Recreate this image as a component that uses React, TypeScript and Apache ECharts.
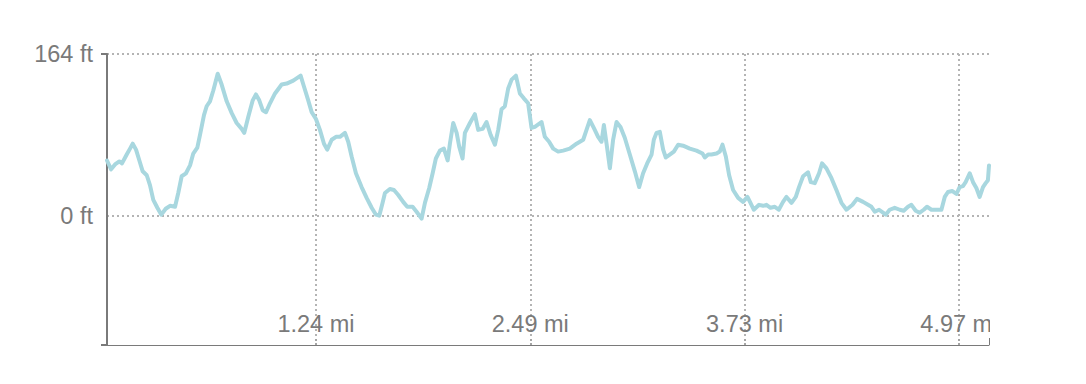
import React, { useEffect, useRef } from "react";
import * as echarts from "echarts";

// distance along route (km)
const distanceKm = [
  0.050, 0.088, 0.125, 0.165, 0.190, 0.234, 0.265, 0.290, 0.321, 0.352,
  0.383, 0.421, 0.451, 0.482, 0.520, 0.557, 0.598, 0.638, 0.685, 0.715,
  0.747, 0.787, 0.825, 0.855, 0.893, 0.918, 0.955, 0.980, 1.011, 1.042,
  1.083, 1.120, 1.167, 1.214, 1.260, 1.307, 1.331, 1.368, 1.410, 1.440,
  1.471, 1.503, 1.534, 1.571, 1.618, 1.680, 1.727, 1.788, 1.857, 1.888,
  1.928, 1.960, 2.000, 2.037, 2.075, 2.105, 2.147, 2.187, 2.224, 2.271,
  2.301, 2.333, 2.373, 2.426, 2.473, 2.520, 2.560, 2.591, 2.622, 2.644,
  2.690, 2.728, 2.768, 2.814, 2.852, 2.870, 2.902, 2.939, 2.986, 3.017,
  3.057, 3.089, 3.119, 3.157, 3.194, 3.229, 3.250, 3.281, 3.313, 3.337,
  3.368, 3.390, 3.437, 3.483, 3.514, 3.555, 3.592, 3.630, 3.670, 3.701,
  3.732, 3.763, 3.794, 3.826, 3.866, 3.903, 3.940, 3.980, 4.012, 4.043,
  4.105, 4.136, 4.176, 4.214, 4.260, 4.307, 4.369, 4.432, 4.494, 4.525,
  4.556, 4.593, 4.633, 4.665, 4.687, 4.712, 4.743, 4.773, 4.805, 4.842,
  4.882, 4.929, 4.976, 5.016, 5.053, 5.091, 5.132, 5.153, 5.178, 5.209,
  5.240, 5.265, 5.302, 5.340, 5.380, 5.426, 5.489, 5.551, 5.607, 5.629,
  5.660, 5.691, 5.738, 5.769, 5.794, 5.825, 5.856, 5.893, 5.940, 5.986,
  6.027, 6.055, 6.086, 6.135, 6.173, 6.204, 6.242, 6.282, 6.319, 6.359,
  6.391, 6.438, 6.478, 6.508, 6.546, 6.592, 6.618, 6.655, 6.695, 6.723,
  6.764, 6.811, 6.857, 6.904, 6.951, 7.007, 7.049, 7.106, 7.152, 7.184,
  7.215, 7.255, 7.292, 7.317, 7.354, 7.401, 7.448, 7.485, 7.525, 7.557,
  7.597, 7.634, 7.672, 7.702, 7.744, 7.790, 7.837, 7.868, 7.898, 7.939,
  7.977, 8.007, 8.038, 8.063, 8.101, 8.132, 8.163, 8.194, 8.225, 8.250,
  8.271, 8.281,
];

// elevation (ft)
const elevationFt = [
  56, 47, 52, 55, 53, 62, 68, 73, 67, 56,
  45, 41, 31, 16, 8, 1, 7, 10, 9, 23,
  40, 43, 51, 63, 69, 82, 102, 111, 116, 127,
  144, 133, 116, 104, 94, 88, 84, 100, 117, 123,
  117, 107, 105, 114, 124, 133, 134, 137, 142, 131,
  117, 105, 98, 87, 73, 67, 77, 80, 80, 84,
  75, 60, 43, 29, 18, 8, 1, 0, 13, 23,
  27, 26, 21, 14, 9, 9, 9, 4, -3, 13,
  28, 43, 58, 66, 68, 56, 73, 94, 84, 70,
  58, 84, 94, 103, 87, 88, 95, 82, 72, 87,
  108, 111, 129, 138, 142, 124, 119, 114, 89, 90,
  95, 80, 75, 68, 65, 66, 68, 73, 77, 87,
  97, 89, 80, 75, 92, 73, 48, 77, 95, 90,
  79, 62, 45, 29, 43, 53, 62, 77, 84, 85,
  67, 59, 62, 65, 72, 71, 68, 66, 63, 59,
  62, 62, 63, 65, 72, 60, 41, 26, 18, 14,
  19, 13, 6, 11, 10, 11, 8, 9, 6, 14,
  19, 13, 19, 29, 40, 44, 34, 33, 43, 53,
  48, 38, 26, 13, 6, 11, 17, 14, 11, 9,
  4, 6, 3, 1, 6, 8, 6, 5, 9, 11,
  5, 3, 6, 9, 6, 6, 6, 19, 24, 25,
  22, 29, 30, 34, 43, 34, 28, 19, 29, 33,
  36, 51,
];

const xTickKm = [2, 4, 6, 8];
const yLabelFt = [0, 164];
const yMin = -131.2;
const yMax = 164;

const KM_PER_MI = 1.609344;

export default function App() {
  const ref = useRef<HTMLDivElement>(null);

  useEffect(() => {
    if (!ref.current) return;
    const chart = echarts.init(ref.current, null, { renderer: "svg" });
    const xMin = distanceKm[0];
    const xMax = distanceKm[distanceKm.length - 1];
    const data = distanceKm.map((d, i) => [d, elevationFt[i]]);
    const font = "'Liberation Sans', Arial, sans-serif";
    const axisGray = "#7a7a7a";
    const gridGray = "#b4b4b4";

    chart.setOption({
      animation: false,
      grid: { left: 107, right: 97, top: 54, bottom: 39, containLabel: false },
      xAxis: [
        {
          type: "value",
          min: xMin,
          max: xMax,
          position: "bottom",
          axisLine: { show: true, onZero: false, lineStyle: { color: axisGray, width: 1 } },
          axisTick: {
            show: true,
            inside: true,
            length: 7,
            customValues: xTickKm,
            lineStyle: { color: "#a5a5a5", width: 2, type: "dotted" },
          },
          axisLabel: {
            show: true,
            inside: true,
            margin: 9,
            customValues: xTickKm,
            color: axisGray,
            fontSize: 23.5,
            fontFamily: font,
            formatter: (v: number) => (v / KM_PER_MI).toFixed(2) + " mi",
          },
          splitLine: {
            show: true,
            lineStyle: { color: gridGray, width: 2, type: [2, 3] },
          },
        },
        {
          type: "value",
          min: xMin,
          max: xMax,
          position: "bottom",
          axisLine: { show: false, onZero: false },
          axisTick: {
            show: true,
            inside: true,
            length: 7,
            customValues: [xMax],
            lineStyle: { color: axisGray, width: 1 },
          },
          axisLabel: { show: false },
          splitLine: { show: false },
        },
      ],
      yAxis: [
        {
          type: "value",
          min: yMin,
          max: yMax,
          position: "left",
          axisLine: { show: true, onZero: false, lineStyle: { color: axisGray, width: 2 } },
          axisTick: {
            show: true,
            length: 6,
            customValues: [yMin, yMax],
            lineStyle: { color: axisGray, width: 2 },
          },
          axisLabel: { show: false },
          splitLine: { show: false },
        },
        {
          type: "value",
          min: yMin,
          max: yMax,
          position: "left",
          axisLine: { show: false, onZero: false },
          axisTick: { show: false, customValues: yLabelFt },
          axisLabel: {
            show: true,
            margin: 14,
            customValues: yLabelFt,
            color: axisGray,
            fontSize: 23.5,
            fontFamily: font,
            formatter: (v: number) => v + " ft",
          },
          splitLine: {
            show: true,
            lineStyle: { color: gridGray, width: 2, type: [2, 3] },
          },
        },
      ],
      graphic: [
        {
          type: "rect",
          left: 990,
          top: 300,
          shape: { width: 96, height: 36 },
          style: { fill: "#ffffff" },
          z: 100,
        },
      ],
      series: [
        {
          type: "line",
          xAxisIndex: 0,
          yAxisIndex: 0,
          data,
          showSymbol: false,
          smooth: false,
          lineStyle: { color: "#a8d7df", width: 4, join: "round", cap: "round" },
          z: 3,
        },
      ],
    });

    return () => chart.dispose();
  }, []);

  return (
    <div
      ref={ref}
      style={{ position: "absolute", left: 0, top: 0, width: 1086, height: 384 }}
    />
  );
}
